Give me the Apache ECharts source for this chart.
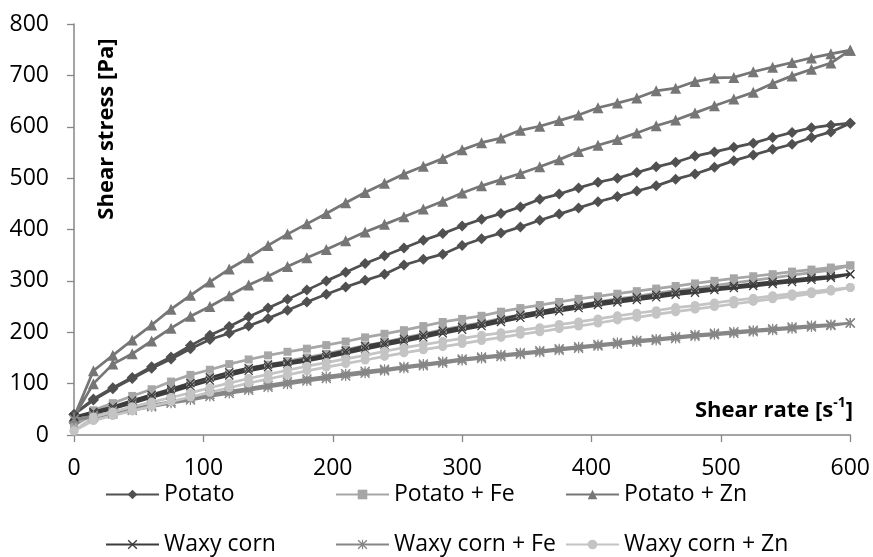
<!DOCTYPE html>
<html>
<head>
<meta charset="utf-8">
<script src="https://cdn.jsdelivr.net/npm/echarts@6/dist/echarts.min.js"></script>
<style>
  html, body { margin: 0; padding: 0; background: #fff; }
  #main { width: 873px; height: 557px; }
</style>
</head>
<body>
<div id="main"></div>
<script>
// shear rate steps, s-1 (same for ramp up and ramp down)
var shearRate = [0, 15, 30, 45, 60, 75, 90, 105, 120, 135, 150, 165, 180, 195, 210, 225, 240, 255, 270, 285,
                 300, 315, 330, 345, 360, 375, 390, 405, 420, 435, 450, 465, 480, 495, 510, 525, 540, 555, 570, 585, 600];

// shear stress, Pa - upper and lower branch of each loop
var potatoUp = [40, 70, 92, 112, 133, 152, 174, 194, 211, 230, 247, 264, 282, 300, 317, 334, 349, 364, 379, 392,
                407, 420, 431, 444, 459, 469, 481, 492, 500, 511, 522, 531, 543, 551, 560, 568, 579, 589, 598, 603, 607];
var potatoDown = [40, 68, 90, 110, 130, 148, 168, 186, 198, 212, 227, 243, 259, 274, 288, 301, 313, 331, 342, 352,
                  369, 382, 393, 405, 418, 430, 442, 454, 464, 475, 485, 498, 508, 521, 534, 545, 556, 566, 579, 590, 607];

var potatoFeUp = [18, 48, 62, 76, 89, 104, 117, 127, 138, 147, 155, 162, 168, 175, 182, 190, 197, 204, 212, 220,
                  226, 232, 240, 247, 253, 259, 265, 270, 275, 280, 285, 290, 295, 300, 305, 309, 313, 318, 322, 326, 330];
var potatoFeDown = [18, 41, 54, 66, 78, 90, 101, 111, 120, 129, 137, 144, 151, 158, 166, 174, 181, 189, 197, 205,
                    212, 219, 227, 234, 240, 247, 253, 259, 265, 270, 276, 281, 286, 291, 296, 301, 306, 311, 316, 321, 330];

var potatoZnUp = [35, 125, 155, 185, 214, 245, 272, 298, 323, 345, 369, 391, 411, 431, 452, 472, 490, 508, 523, 538,
                  555, 569, 578, 593, 601, 612, 623, 637, 646, 656, 670, 675, 688, 695, 696, 707, 716, 725, 734, 742, 749];
var potatoZnDown = [35, 100, 138, 158, 183, 208, 231, 250, 271, 292, 309, 328, 345, 361, 378, 395, 410, 425, 440, 455,
                    471, 485, 497, 509, 522, 536, 552, 564, 575, 588, 602, 613, 627, 641, 654, 667, 684, 699, 712, 724, 749];

var waxyUp = [35, 45, 55, 67, 78, 89, 101, 112, 122, 130, 137, 142, 148, 156, 164, 173, 180, 187, 195, 203,
              210, 217, 225, 234, 240, 247, 252, 258, 263, 268, 273, 278, 282, 286, 290, 294, 298, 302, 306, 309, 313];
var waxyDown = [35, 42, 51, 62, 73, 84, 95, 106, 116, 125, 132, 138, 144, 151, 159, 167, 175, 182, 190, 198,
                205, 212, 220, 228, 235, 241, 247, 253, 258, 263, 268, 273, 277, 282, 286, 290, 294, 298, 302, 306, 313];

var waxyFeUp = [30, 37, 44, 52, 58, 65, 72, 79, 85, 91, 97, 103, 109, 114, 119, 124, 128, 133, 138, 143,
                148, 152, 156, 160, 164, 168, 172, 176, 180, 184, 187, 191, 195, 198, 201, 204, 207, 210, 213, 215, 218];
var waxyFeDown = [30, 34, 41, 48, 55, 62, 68, 75, 81, 87, 93, 99, 105, 110, 115, 120, 125, 130, 135, 140,
                  145, 149, 153, 157, 161, 165, 169, 173, 177, 181, 184, 188, 192, 195, 198, 201, 204, 207, 210, 213, 218];

var waxyZnUp = [8, 35, 45, 55, 64, 73, 82, 92, 101, 110, 118, 126, 134, 141, 148, 155, 163, 170, 176, 182,
                188, 194, 199, 204, 209, 215, 220, 226, 232, 237, 242, 248, 252, 257, 262, 266, 271, 275, 279, 283, 287];
var waxyZnDown = [8, 28, 38, 47, 56, 65, 74, 83, 92, 101, 109, 117, 125, 132, 139, 146, 153, 160, 166, 172,
                  178, 184, 190, 196, 201, 207, 212, 218, 224, 229, 235, 240, 245, 250, 255, 260, 265, 270, 275, 280, 287];

var names = ['Potato', 'Potato + Fe', 'Potato + Zn', 'Waxy corn', 'Waxy corn + Fe', 'Waxy corn + Zn'];
var xTicks = [0, 100, 200, 300, 400, 500, 600];
var yTicks = [0, 100, 200, 300, 400, 500, 600, 700, 800];

var crossPath = 'path://M0,1L1,0L5,4L9,0L10,1L6,5L10,9L9,10L5,6L1,10L0,9L4,5Z';
var starPath = 'path://M0,1L1,0L5,4L9,0L10,1L6,5L10,9L9,10L5,6L1,10L0,9L4,5Z M4.4,0L5.6,0L5.6,10L4.4,10Z';

// up branch then back down, like one loop
function loop(up, down) {
    var pts = [];
    for (var i = 0; i < up.length; i++) pts.push([shearRate[i], up[i]]);
    for (var j = down.length - 1; j >= 0; j--) pts.push([shearRate[j], down[j]]);
    return pts;
}

var looks = [
    { color: '#505050', symbol: 'diamond', size: 11 },
    { color: '#a6a6a6', symbol: 'rect', size: 8 },
    { color: '#767676', symbol: 'triangle', size: 11 },
    { color: '#3c3c3c', symbol: crossPath, size: 9 },
    { color: '#868686', symbol: starPath, size: 10 },
    { color: '#c4c4c4', symbol: 'circle', size: 9 }
];
var loops = [
    loop(potatoUp, potatoDown),
    loop(potatoFeUp, potatoFeDown),
    loop(potatoZnUp, potatoZnDown),
    loop(waxyUp, waxyDown),
    loop(waxyFeUp, waxyFeDown),
    loop(waxyZnUp, waxyZnDown)
];

var font = 'Open Sans';
var legendLeft = [105, 335, 565];
var legendTop = [483, 533];

var chartDom = document.getElementById('main');
var myChart = echarts.init(chartDom, null, { renderer: 'canvas' });

var option = {
    animation: false,
    backgroundColor: '#fff',
    grid: { left: 74, right: 22, top: 24, bottom: 122, containLabel: false },
    xAxis: {
        type: 'value',
        min: 0,
        max: 600,
        interval: 100,
        axisLine: { lineStyle: { color: '#868686', width: 1.5 } },
        axisTick: { show: true, length: 7, lineStyle: { color: '#868686', width: 1.3 } },
        axisLabel: {
            color: '#000', fontSize: 23, fontFamily: font, margin: 22,
            formatter: function (v) { return xTicks.indexOf(v) >= 0 ? String(v) : ''; }
        },
        splitLine: { show: false }
    },
    yAxis: {
        type: 'value',
        min: 0,
        max: 800,
        interval: 100,
        axisLine: { show: true, lineStyle: { color: '#868686', width: 1.5 } },
        axisTick: { show: true, length: 7, lineStyle: { color: '#868686', width: 1.3 } },
        axisLabel: {
            color: '#000', fontSize: 23, fontFamily: font, margin: 25,
            formatter: function (v) { return yTicks.indexOf(v) >= 0 ? String(v) : ''; }
        },
        splitLine: { show: false }
    },
    legend: names.map(function (n, i) {
        return {
            data: [n],
            left: legendLeft[i % 3],
            top: legendTop[Math.floor(i / 3)],
            padding: 0,
            itemWidth: 53,
            itemHeight: 12,
            itemGap: 5,
            selectedMode: false,
            textStyle: { color: '#000', fontSize: 23, fontFamily: font, padding: [0, 0, 0, 0] }
        };
    }),
    graphic: [
        {
            type: 'text',
            x: 107, y: 129,
            rotation: Math.PI / 2,
            style: {
                text: 'Shear stress [Pa]',
                fill: '#000',
                font: 'bold 22px "Open Sans"',
                align: 'center',
                verticalAlign: 'middle'
            }
        },
        {
            type: 'text',
            x: 853, y: 411,
            style: {
                text: '{a|Shear rate [s}{b|-1}{a|]}',
                align: 'right',
                verticalAlign: 'middle',
                rich: {
                    a: { fontSize: 22, fontWeight: 'bold', fontFamily: font, fill: '#000', lineHeight: 30 },
                    b: { fontSize: 14, fontWeight: 'bold', fontFamily: font, fill: '#000', verticalAlign: 'top', lineHeight: 30, padding: [0, 0, 10, 0] }
                }
            }
        }
    ],
    series: names.map(function (n, i) {
        return {
            name: n,
            type: 'line',
            data: loops[i],
            symbol: looks[i].symbol,
            symbolSize: looks[i].size,
            showSymbol: true,
            color: looks[i].color,
            itemStyle: { color: looks[i].color },
            lineStyle: { color: looks[i].color, width: 2.75 },
            emphasis: { disabled: true }
        };
    })
};

option && myChart.setOption(option);
</script>
</body>
</html>
